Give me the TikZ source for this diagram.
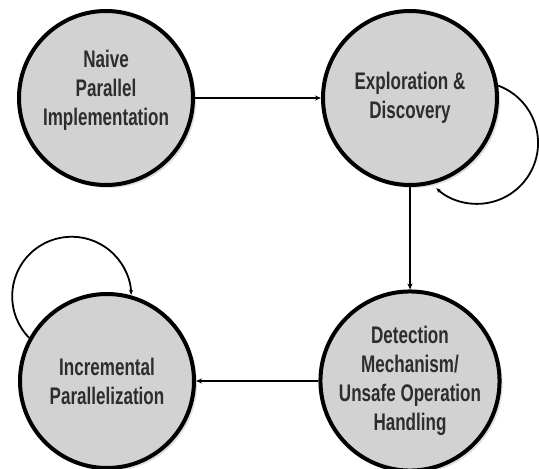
\documentclass[tikz,border=0pt]{standalone}
\usepackage{fontspec}
\setmainfont[FakeStretch=0.71]{Liberation Sans}
\usetikzlibrary{shadows,arrows.meta}
\definecolor{statefill}{RGB}{210,210,210}
\definecolor{statetext}{RGB}{45,45,45}
\tikzset{
  state/.style={circle, draw=black, line width=4pt, fill=statefill,
    minimum size=174pt, inner sep=0pt, align=center, text=statetext,
    font=\fontsize{24pt}{29pt}\selectfont\bfseries,
    drop shadow={opacity=0.25, shadow xshift=3pt, shadow yshift=-3pt}},
  conn/.style={line width=1.8pt, -{Stealth[length=6pt,width=5pt]}},
  loopline/.style={line width=1.8pt, -{Stealth[length=5pt,width=4pt]}}
}
\begin{document}
\begin{tikzpicture}[x=1pt,y=1pt]
\useasboundingbox (0,0) rectangle (539,-469);
\node[state] (n1) at (106,-98) {Naive\\Parallel\\Implementation\\[-9pt]\mbox{}};
\node[state] (n2) at (410,-98) {Exploration \&\\Discovery};
\node[state] (n3) at (107,-381) {Incremental\\Parallelization};
\node[state] (n4) at (410,-381) {Detection\\Mechanism/\\Unsafe Operation\\Handling};
\draw[conn] (n1) -- (n2);
\draw[conn] (n2) -- (n4);
\draw[conn] (n4) -- (n3);
\draw[loopline] (n2.8.5) arc[start angle=69.8, end angle=-132, radius=61];
\draw[loopline] (n3.151.7) arc[start angle=224.4, end angle=1.3, radius=59.5];
\end{tikzpicture}
\end{document}
